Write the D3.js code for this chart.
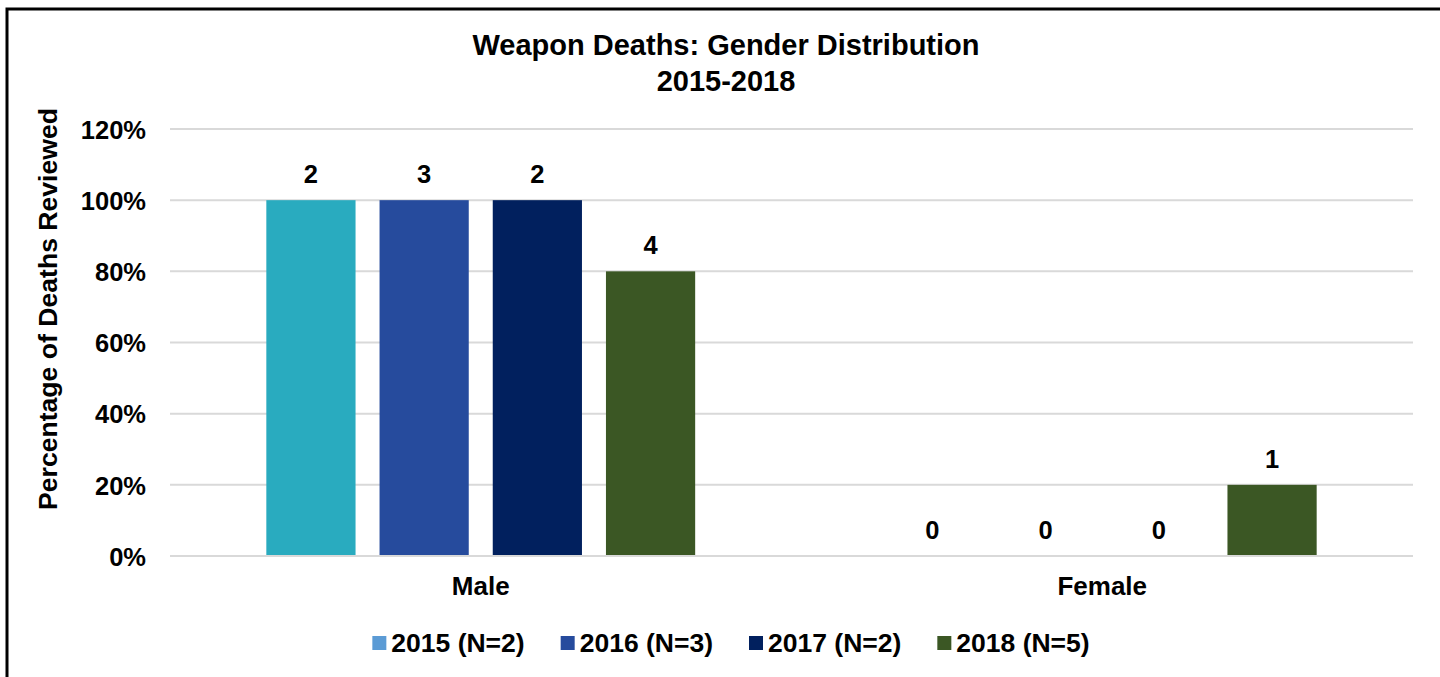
<!DOCTYPE html>
<html>
<head>
<meta charset="utf-8">
<script src="https://cdn.jsdelivr.net/npm/d3@7/dist/d3.min.js"></script>
<style>
  html, body { margin: 0; padding: 0; background: #fff; }
  svg { display: block; font-family: Arial, "Liberation Sans", sans-serif; font-weight: bold; }
</style>
</head>
<body>
<svg id="chart" width="1440" height="677"></svg>
<script>
// ---- data ----
const categories = ["Male", "Female"];
const seriesNames = ["2015 (N=2)", "2016 (N=3)", "2017 (N=2)", "2018 (N=5)"];
const percentValues = [
  [100, 0],   // 2015
  [100, 0],   // 2016
  [100, 0],   // 2017
  [80, 20]    // 2018
];
const countLabels = [
  [2, 0],
  [3, 0],
  [2, 0],
  [4, 1]
];
const yTicks = [0, 20, 40, 60, 80, 100, 120];
const barColors = ["#29ABBF", "#264B9D", "#01205E", "#3B5724"];
const legendColors = ["#5B9BD5", "#264B9D", "#01205E", "#3B5724"];
const titleLines = ["Weapon Deaths: Gender Distribution", "2015-2018"];
const yAxisTitle = "Percentage of Deaths Reviewed";

// ---- layout ----
const svg = d3.select("#chart");
const plot = { left: 170, right: 1413, top: 129, bottom: 556 };

// frame
svg.append("path")
  .attr("d", "M7,700 L7,9 L1450,9")
  .attr("fill", "none").attr("stroke", "#000").attr("stroke-width", 3);

const y = d3.scaleLinear().domain([0, 120]).range([plot.bottom, plot.top]);
const x0 = d3.scaleBand().domain(categories).range([plot.left, plot.right])
  .paddingInner(0.31).paddingOuter(0.155);
const x1 = d3.scaleBand().domain(d3.range(seriesNames.length)).range([0, x0.bandwidth()])
  .paddingInner(0.212).paddingOuter(0);

// gridlines
svg.append("g").selectAll("line").data(yTicks.filter(t => t > 0)).join("line")
  .attr("x1", plot.left).attr("x2", plot.right)
  .attr("y1", d => y(d)).attr("y2", d => y(d))
  .attr("stroke", "#D9D9D9").attr("stroke-width", 2);

// y tick labels
const yAxis = d3.axisLeft(y).tickValues(yTicks).tickFormat(d => d + "%").tickSize(0).tickPadding(0);
const gy = svg.append("g").attr("transform", `translate(146,0)`).call(yAxis);
gy.select(".domain").remove();
gy.selectAll("text").attr("font-size", 25.5).attr("font-family", null).attr("fill", "#000")
  .attr("dy", "0.36em").attr("font-weight", "bold");

// bars
const flat = [];
seriesNames.forEach((s, si) => categories.forEach((c, ci) => {
  flat.push({ si, c, v: percentValues[si][ci], n: countLabels[si][ci] });
}));
svg.append("g").selectAll("rect").data(flat).join("rect")
  .attr("x", d => x0(d.c) + x1(d.si))
  .attr("width", x1.bandwidth())
  .attr("y", d => y(d.v))
  .attr("height", d => y(0) - y(d.v))
  .attr("fill", d => barColors[d.si]);

// data labels
svg.append("g").selectAll("text").data(flat).join("text")
  .attr("x", d => x0(d.c) + x1(d.si) + x1.bandwidth() / 2)
  .attr("y", d => y(d.v) - 17)
  .attr("text-anchor", "middle").attr("font-size", 25.5).attr("fill", "#000")
  .text(d => d.n);

// x axis line
svg.append("line").attr("x1", plot.left).attr("x2", plot.right)
  .attr("y1", y(0)).attr("y2", y(0)).attr("stroke", "#D9D9D9").attr("stroke-width", 2);

// category labels
const xAxis = d3.axisBottom(x0).tickSize(0).tickPadding(0);
const gx = svg.append("g").attr("transform", `translate(0,${y(0)})`).call(xAxis);
gx.select(".domain").remove();
gx.selectAll("text").attr("font-size", 26).attr("font-family", null).attr("fill", "#000")
  .attr("dy", null).attr("y", 39).attr("font-weight", "bold");

// title
svg.append("text").attr("x", 726).attr("y", 55).attr("text-anchor", "middle")
  .attr("font-size", 29).text(titleLines[0]);
svg.append("text").attr("x", 726).attr("y", 91).attr("text-anchor", "middle")
  .attr("font-size", 29).text(titleLines[1]);

// y axis title
svg.append("text").attr("transform", "translate(57,309) rotate(-90)")
  .attr("text-anchor", "middle").attr("font-size", 26.6).text(yAxisTitle);

// legend
const lg = svg.append("g");
const items = lg.selectAll("g").data(seriesNames).join("g");
items.append("rect").attr("width", 14).attr("height", 14).attr("y", -16)
  .attr("fill", (d, i) => legendColors[i]);
items.append("text").attr("x", 19).attr("y", 0).attr("font-size", 26.5).text(d => d);
const widths = [];
items.each(function () {
  const w = 19 + d3.select(this).select("text").node().getComputedTextLength();
  widths.push(w);
});
const gap = 36;
const total = d3.sum(widths) + gap * (widths.length - 1);
let start = 731 - total / 2;
items.attr("transform", (d, i) => {
  const tx = start;
  start += widths[i] + gap;
  return `translate(${tx},652)`;
});
</script>
</body>
</html>
